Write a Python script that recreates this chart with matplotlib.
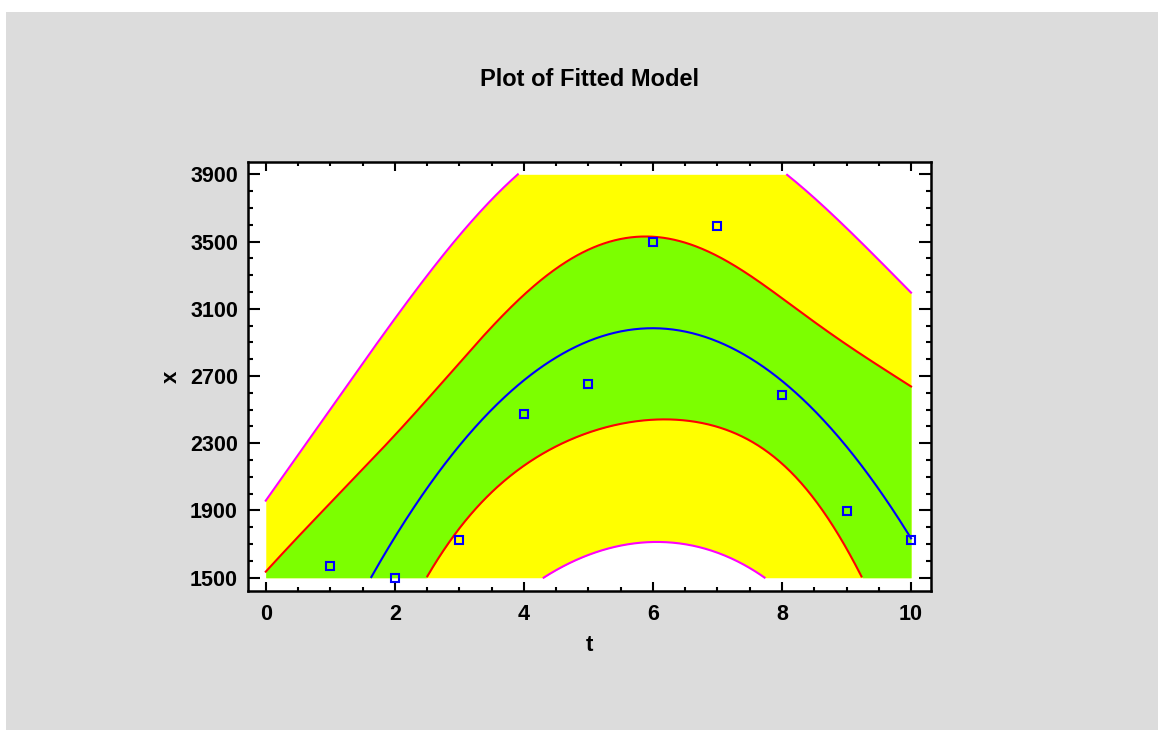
import numpy as np
import matplotlib.pyplot as plt
from matplotlib.patches import Rectangle
from matplotlib.ticker import MultipleLocator

plt.rcParams['font.family'] = ['Liberation Sans', 'DejaVu Sans']
plt.rcParams['font.weight'] = 'bold'

# datos observados (t, x)
t_obs = np.array([1, 2, 3, 4, 5, 6, 7, 8, 9, 10])
x_obs = np.array([1571, 1497, 1724, 2473, 2655, 3498, 3595, 2590, 1897, 1724])

titulo = "Plot of Fitted Model"
x_ticks = [0, 2, 4, 6, 8, 10]
y_ticks = [1500, 1900, 2300, 2700, 3100, 3500, 3900]
y_min, y_max = 1500, 3900
t_crit = 2.365  # t(0.975, 7 gl)

# ajuste cuadratico e intervalos al 95%
X = np.vander(t_obs, 3)
beta, *_ = np.linalg.lstsq(X, x_obs, rcond=None)
res = x_obs - X @ beta
s2 = np.sum(res**2) / (len(t_obs) - 3)
XtX_inv = np.linalg.inv(X.T @ X)

tg = np.linspace(0, 10, 600)
G = np.vander(tg, 3)
ajuste = G @ beta
h = np.einsum('ij,jk,ik->i', G, XtX_inv, G)
ci = t_crit * np.sqrt(s2 * h)
pi = t_crit * np.sqrt(s2 * (1 + h))

fig = plt.figure(figsize=(11.58, 7.30), dpi=100)
fig.patch.set_facecolor('white')
fig.patches.append(Rectangle((6/1158, 0), 1, (730-12)/730, transform=fig.transFigure,
                             facecolor='#dcdcdc', edgecolor='none', zorder=-10))

ax = fig.add_axes([0.2139, 0.1904, 0.5901, 0.5881])
ax.set_facecolor('white')

clip = lambda y: np.clip(y, y_min, y_max)
ax.fill_between(tg, clip(ajuste - pi), clip(ajuste + pi), color='#ffff00', lw=0, zorder=1)
ax.fill_between(tg, clip(ajuste - ci), clip(ajuste + ci), color='#7cff00', lw=0, zorder=2)

def linea(y, color):
    y = np.where((y >= y_min) & (y <= y_max), y, np.nan)
    ax.plot(tg, y, color=color, lw=1.5, zorder=3)

linea(ajuste + pi, '#ff00ff')
linea(ajuste - pi, '#ff00ff')
linea(ajuste + ci, '#ff0000')
linea(ajuste - ci, '#ff0000')
linea(ajuste, '#0000ff')

ax.plot(t_obs, x_obs, 's', ms=6, mfc='none', mec='#0000ff', mew=1.5, zorder=4, clip_on=False)

ax.set_xlim(-0.28, 10.31)
ax.set_ylim(1421, 3975)
ax.set_xticks(x_ticks)
ax.set_yticks(y_ticks)
ax.xaxis.set_minor_locator(MultipleLocator(0.5))
ax.yaxis.set_minor_locator(MultipleLocator(100))
ax.tick_params(axis='both', which='both', direction='in', top=True, right=True,
               width=1.5, labelsize=15.5, colors='black')
ax.tick_params(axis='x', which='major', length=6.5, pad=9)
ax.tick_params(axis='x', which='minor', length=3)
ax.tick_params(axis='y', which='major', length=8.6, pad=7)
ax.tick_params(axis='y', which='minor', length=3.8)
for lab in ax.get_xticklabels() + ax.get_yticklabels():
    lab.set_fontweight('bold')
for s in ax.spines.values():
    s.set_linewidth(1.8)

ax.set_xlabel("t", fontsize=16, fontweight='bold')
ax.set_ylabel("x", fontsize=16, fontweight='bold')
ax.xaxis.set_label_coords(0.5, -0.126)
ax.xaxis.label.set_va('center')
ax.yaxis.set_label_coords(-0.112, 0.5)
ax.yaxis.label.set_va('center')

fig.text(589.4/1158, 1 - 79/730, titulo, ha='center', va='center',
         fontsize=17, fontweight='bold')

fig.savefig("out.png", dpi=100, facecolor=fig.get_facecolor())
